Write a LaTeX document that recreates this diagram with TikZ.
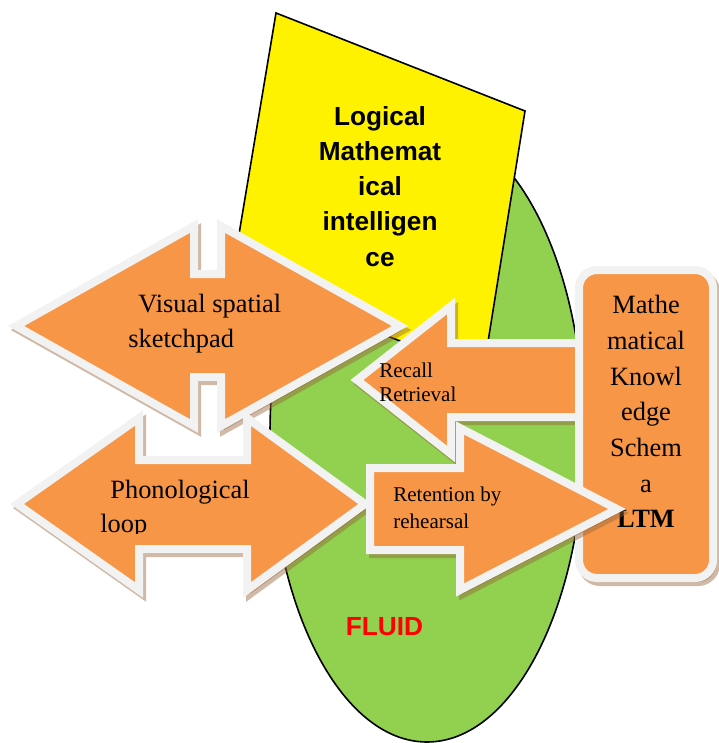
\documentclass[tikz,border=0pt]{standalone}
\usepackage{fontspec}
\setmainfont{Liberation Serif}
\setsansfont{Liberation Sans}
\usetikzlibrary{shadows}
\definecolor{wmorange}{HTML}{F79646}
\definecolor{wmgreen}{HTML}{92D050}
\definecolor{wmborder}{HTML}{F2F2F2}
\definecolor{wmshadow}{RGB}{150,100,60}

\begin{document}
\begin{tikzpicture}[x=0.5pt, y=-0.5pt,
		blockarrow/.style={fill=wmorange, draw=wmborder, line width=4pt,
			drop shadow={shadow xshift=1.5pt, shadow yshift=-2pt,
				fill=wmshadow, draw=wmshadow, line width=4pt, opacity=0.45},
		},
		bigtext/.style={font=\fontsize{13.2}{17.6}\selectfont, inner sep=0pt},
		smalltext/.style={font=\fontsize{10.5}{12}\selectfont, inner sep=0pt, align=left},
		headtext/.style={font=\sffamily\bfseries\fontsize{13.1}{17.6}\selectfont, inner sep=0pt},
	]
	\useasboundingbox (0,0) rectangle (718,743);

	\draw[fill=wmgreen, line width=0.8pt] (427,434) ellipse [x radius=157, y radius=308];
	\draw[fill=yellow, line width=0.8pt] (276,13) -- (525,111) -- (483,373) -- (232,276) -- cycle;
	\node[headtext, align=center, anchor=north] (logic) at (380,106)
		{Logical\\Mathemat\\ical\\intelligen\\ce};
	\node[headtext, text=red, anchor=base] (fluid) at (384.5,635) {FLUID};

	\draw[blockarrow] (16,326) -- (194,226) -- (194,274) -- (221,274) -- (221,226) -- (400,326)
		-- (221,426) -- (221,377) -- (194,377) -- (194,426) -- cycle;
	\node[bigtext, align=left, anchor=north west] (visual) at (128,294)
		{\hspace*{5pt}Visual spatial\\sketchpad};

	\draw[blockarrow] (17,504) -- (139,418) -- (139,460) -- (247,460) -- (247,418) -- (365,504)
		-- (247,590) -- (247,549) -- (139,549) -- (139,590) -- cycle;
	\begin{scope}
		\clip (0,0) rectangle (718,533);
		\node[bigtext, font=\fontsize{13.2}{17}\selectfont, align=left, anchor=north west] (phono) at (100,480)
			{\hspace*{5pt}Phonological\\loop};
	\end{scope}

	\draw[blockarrow] (357,380) -- (451,306) -- (451,343) -- (580,343) -- (580,417) -- (451,417)
		-- (451,454) -- cycle;
	\node[smalltext, anchor=north west] (recall) at (379,363) {Recall\\Retrieval};

	\draw[blockarrow, rounded corners=9pt] (579,270) rectangle (713,578);
	\node[bigtext, font=\fontsize{13.2}{17.85}\selectfont, align=center, anchor=north] (ltm) at (646,295)
		{Mathe\\matical\\Knowl\\edge\\Schem\\a\\\textbf{LTM}};

	\draw[blockarrow] (370,468) -- (460,468) -- (460,428) -- (617,509) -- (460,590) -- (460,550)
		-- (370,550) -- cycle;
	\node[smalltext, font=\fontsize{10.5}{13.5}\selectfont, anchor=north west] (retention) at (393,487)
		{Retention by\\rehearsal};
\end{tikzpicture}
\end{document}
